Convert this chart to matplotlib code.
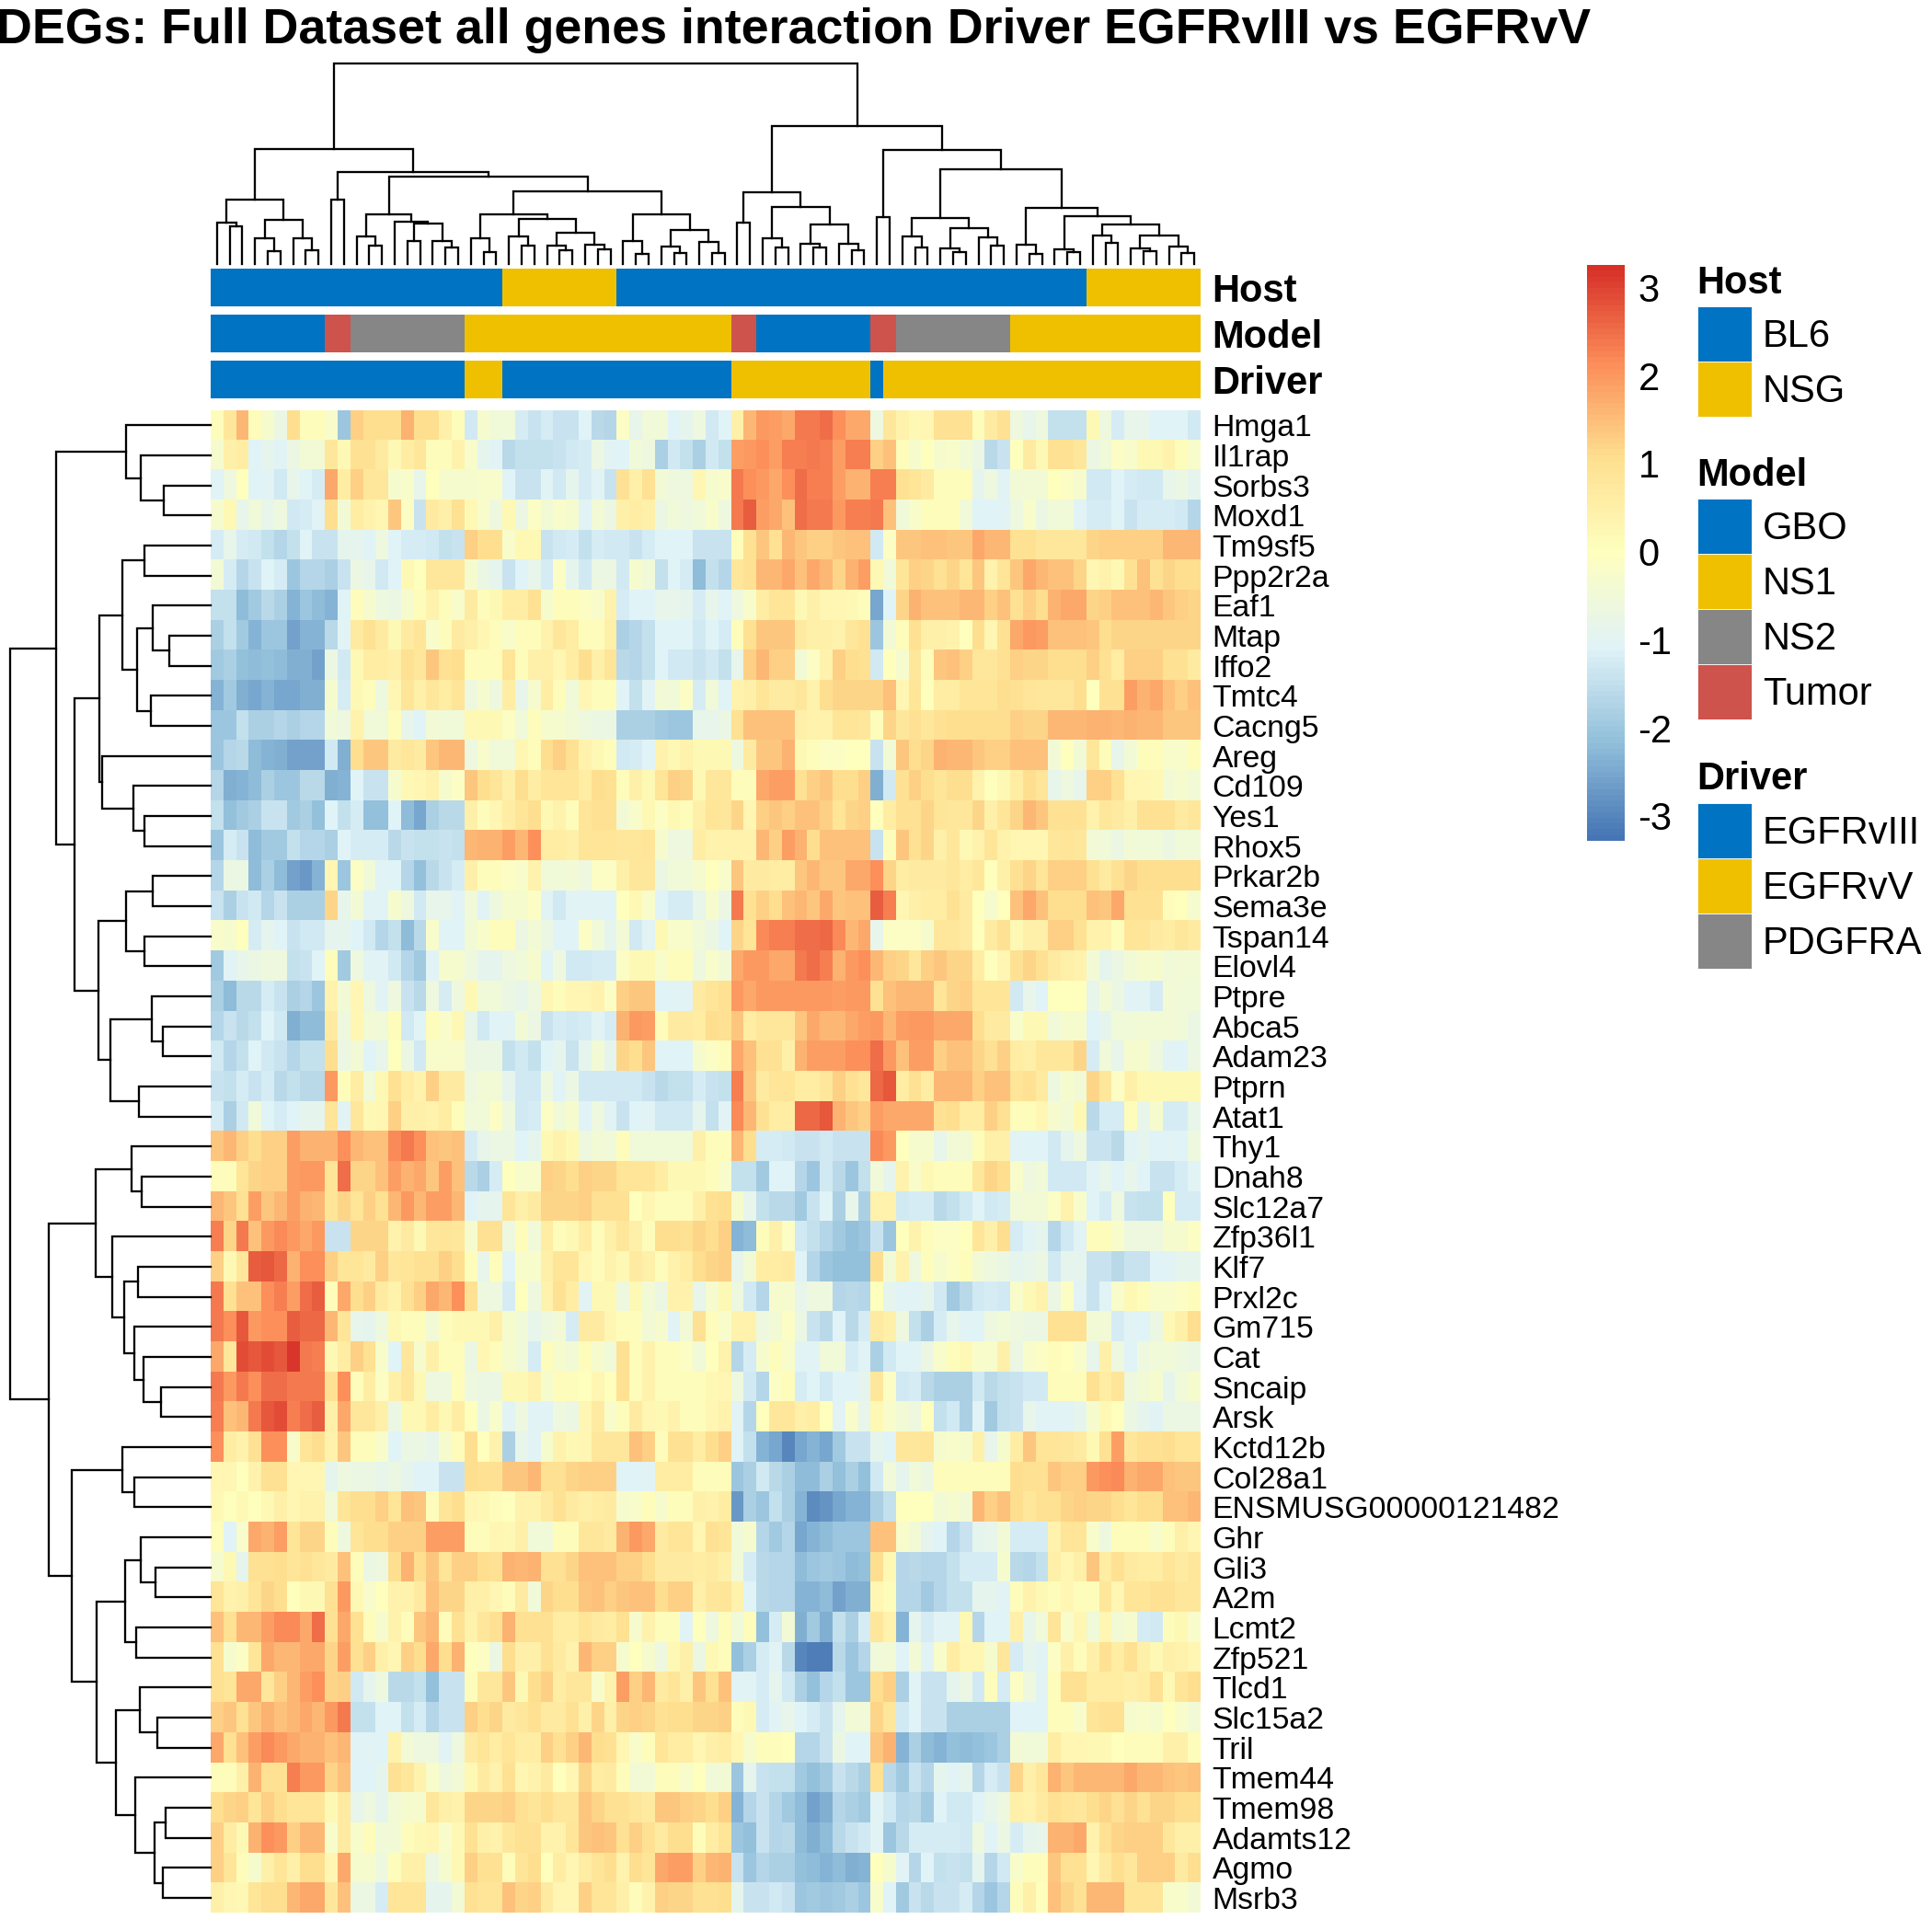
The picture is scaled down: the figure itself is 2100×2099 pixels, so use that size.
#!/usr/bin/env python3
"""Clustered expression heatmap with sample annotation tracks and dendrograms."""
import numpy as np
import matplotlib
matplotlib.use("Agg")
import matplotlib.pyplot as plt
from matplotlib.colors import LinearSegmentedColormap, ListedColormap
from matplotlib.patches import Rectangle
from matplotlib.transforms import ScaledTranslation

plt.rcParams["font.family"] = ["Liberation Sans", "DejaVu Sans"]

W, H = 2100, 2099

TITLE = "DEGs: Full Dataset all genes interaction Driver EGFRvIII vs EGFRvV"

ROW_LABELS = ["Hmga1", "Il1rap", "Sorbs3", "Moxd1", "Tm9sf5", "Ppp2r2a", "Eaf1", "Mtap", "Iffo2", "Tmtc4",
              "Cacng5", "Areg", "Cd109", "Yes1", "Rhox5", "Prkar2b", "Sema3e", "Tspan14", "Elovl4", "Ptpre",
              "Abca5", "Adam23", "Ptprn", "Atat1", "Thy1", "Dnah8", "Slc12a7", "Zfp36l1", "Klf7", "Prxl2c",
              "Gm715", "Cat", "Sncaip", "Arsk", "Kctd12b", "Col28a1", "ENSMUSG00000121482", "Ghr", "Gli3", "A2m",
              "Lcmt2", "Zfp521", "Tlcd1", "Slc15a2", "Tril", "Tmem44", "Tmem98", "Adamts12", "Agmo", "Msrb3"]

# z-scores, in tenths, samples in dendrogram order
Hmga1 = [1,8,16,1,-3,-7,11,1,1,-2,-20,13,11,11,11,17,11,11,5,1,-13,-3,-5,-5,-12,-14,-12,-14,-14,-11,-16,-17,-1,-8,-5,-5,-11,-9,-6,-13,
         -11,5,16,20,19,18,24,24,25,21,18,18,-6,8,4,2,3,10,10,10,1,7,10,-6,-8,-6,-15,-15,-15,2,-6,-12,-8,-8,-11,-11,-11,-13]
Il1rap = [-3,5,6,-11,-9,-10,-7,-4,-4,8,2,10,10,7,2,6,8,1,1,4,-2,-9,-10,-16,-15,-15,-15,-14,-13,-12,-7,-10,-11,-5,-6,-18,-13,-15,-18,-13,
          -15,19,20,21,19,23,23,24,23,19,23,23,13,15,1,-3,0,-3,-2,-4,-7,-16,-14,0,7,2,10,10,8,-7,-5,-1,-2,2,2,4,1,-2]
Sorbs3 = [-10,-6,0,-11,-10,-13,-8,-11,-12,18,6,13,8,8,-3,-2,-8,0,-3,-3,-3,-2,-2,-11,-14,-14,-10,-13,-9,-12,-10,-14,10,5,10,-4,-6,-6,3,-3,
          -2,24,21,20,18,21,25,23,23,19,17,17,23,23,10,9,7,1,1,1,-9,-6,-10,-4,-4,-4,0,-1,-3,-13,-13,-11,-12,-13,-13,-8,-7,-9]
Moxd1 = [-3,2,-8,-5,-8,-6,-13,-12,-10,11,-4,6,4,3,14,-1,-14,7,5,10,2,-2,-6,2,-7,-1,-4,-2,-3,-10,-4,-7,5,6,5,-7,-5,-6,-5,-2,
         -6,24,27,19,18,15,25,24,24,20,23,23,24,15,-5,-2,1,1,1,-5,-11,-11,-10,-6,-2,-7,-5,-5,-10,-12,-12,-11,-14,-12,-12,-12,-13,-17]
Tm9sf5 = [-12,-8,-12,-13,-15,-17,-15,-11,-14,-14,-9,-9,-11,-6,-11,-12,-12,-13,-15,-14,13,11,11,-2,2,2,-14,-13,-12,-15,-12,-13,-13,-14,-12,-11,-11,-11,-14,-14,
          -14,1,10,14,10,16,14,13,13,14,15,15,-13,-1,14,14,15,15,14,14,18,16,16,10,10,8,8,8,8,12,13,13,13,13,13,16,16,16]
Ppp2r2a = [-4,-12,-17,-14,-11,-12,-20,-17,-17,-18,-14,-7,-8,-13,-11,2,0,8,8,8,-3,-7,-9,-14,-11,-8,-12,-1,-9,-13,-7,-7,-13,-3,-5,-15,-11,-12,-22,-15,
           -17,8,10,16,16,18,15,18,16,12,17,19,2,-5,9,13,12,10,12,9,14,4,9,14,18,16,15,15,12,3,4,2,10,15,10,12,11,11]
Eaf1 = [-15,-15,-22,-19,-16,-18,-23,-20,-22,-23,-11,1,-3,-6,-7,-3,1,4,1,-2,7,1,2,6,6,10,-3,1,1,-1,-2,4,-12,-11,-11,-8,-8,-9,-12,-8,
        -11,-6,-2,6,9,9,2,5,3,3,2,1,-25,-11,12,17,15,15,15,16,16,13,15,10,13,11,17,18,18,12,13,15,15,15,16,14,13,12]
Mtap = [-18,-15,-19,-23,-20,-20,-26,-23,-23,-16,-10,7,10,7,2,7,9,-2,1,7,5,3,1,-2,1,1,4,8,6,1,1,5,-18,-17,-15,-11,-11,-11,-13,-11,
        -12,1,10,14,14,14,7,5,5,4,8,10,-20,-4,1,10,5,5,4,0,11,3,10,18,20,19,15,15,15,14,11,12,12,12,12,12,12,12]
Iffo2 = [-19,-18,-21,-22,-21,-22,-24,-24,-26,-7,-13,2,6,6,5,10,8,14,10,11,1,1,1,9,1,5,5,3,6,11,5,9,-16,-17,-15,-11,-13,-13,-14,-13,
         -15,-8,13,16,13,13,-4,-1,4,13,11,10,-13,0,-3,8,1,14,15,13,8,8,10,13,12,12,11,11,11,13,10,6,13,13,13,10,10,7]
Tmtc4 = [-23,-19,-24,-25,-23,-25,-25,-24,-24,-3,-12,2,1,-6,3,9,5,8,6,9,-6,-3,-6,6,-8,-3,6,1,-5,3,1,1,-11,-15,-10,-4,-5,-1,-12,-5,
         -11,4,5,9,7,7,8,4,11,12,12,12,12,15,3,9,0,6,6,9,9,9,11,10,9,8,8,8,11,0,10,10,19,17,18,15,13,15]
Cacng5 = [-20,-20,-15,-18,-18,-17,-18,-17,-17,-5,-6,4,-5,-5,1,-8,-11,-4,-5,-5,2,2,2,-1,-5,1,-3,-3,-4,-6,-7,-7,-18,-18,-18,-19,-20,-20,-8,-8,
          -7,10,15,15,15,15,5,4,4,9,9,8,1,12,8,10,8,10,11,11,11,11,11,13,12,12,16,16,16,17,17,16,17,16,16,14,14,14]
Areg = [-20,-17,-16,-22,-23,-24,-26,-26,-26,-13,-24,11,14,14,7,8,7,14,16,16,-6,-2,-5,-5,3,1,11,13,10,4,2,1,-13,-12,-11,4,2,4,2,2,
        2,-6,7,14,14,17,2,1,-1,-1,0,0,-14,-4,14,11,12,17,16,16,14,13,13,15,15,15,-4,0,-4,8,1,-8,-4,1,1,-2,-2,1]
Cd109 = [-17,-24,-23,-22,-18,-20,-20,-16,-16,-24,-23,-11,-14,-14,-3,2,3,4,-3,-1,14,11,9,5,11,6,9,9,9,6,11,10,1,5,2,9,13,12,2,8,
         8,1,1,18,19,19,10,13,14,11,11,13,-24,-13,10,13,11,9,11,11,4,0,2,6,11,9,-8,-6,-8,13,13,10,3,3,2,-4,-3,-4]
Yes1 = [-15,-21,-19,-18,-14,-14,-19,-18,-21,-11,-15,-12,-21,-21,-11,-22,-25,-18,-16,-16,5,1,3,6,9,11,2,4,1,9,10,10,-4,-2,2,-1,2,1,5,9,
        8,12,3,13,14,13,15,15,13,9,12,13,0,6,10,10,12,9,8,8,12,5,9,12,16,14,10,10,10,4,8,7,5,10,10,10,7,8]
Rhox5 = [-20,-12,-14,-22,-19,-19,-15,-17,-17,-18,-11,-12,-12,-12,-16,-14,-15,-15,-14,-15,16,17,17,19,16,21,6,6,5,9,9,9,8,8,9,-3,-6,-6,6,4,
         4,4,4,16,13,19,17,11,15,15,15,15,-14,1,14,10,12,5,8,2,4,9,4,3,3,3,8,9,8,-4,-5,-7,-4,-5,-5,-7,-5,-5]
Prkar2b = [-17,-7,-7,-22,-18,-22,-26,-27,-23,3,-20,-1,-5,-10,-11,-17,-21,-16,-14,-12,5,1,1,-1,-2,4,-5,-5,-4,-6,-1,-1,5,8,8,-7,-5,-5,-3,0,
           -2,14,7,7,6,6,14,16,14,14,18,18,21,12,6,7,7,7,8,6,8,0,5,10,12,9,13,13,13,10,7,10,12,11,11,11,11,11]
Sema3e = [-14,-18,-14,-13,-17,-14,-18,-18,-18,12,-8,-4,-10,-10,-3,-6,-13,-8,-8,-10,-5,-10,-6,-3,-3,-1,-10,-13,-10,-10,-10,-11,0,2,-2,-11,-12,-12,-8,-3,
          -7,24,10,13,11,15,16,14,18,14,15,15,27,23,3,5,6,6,10,7,0,-3,0,15,18,15,11,11,11,15,14,18,10,10,10,1,0,-3]
Tspan14 = [-2,-3,0,-12,-9,-11,-14,-13,-13,-9,-9,-11,-13,-17,-15,-22,-16,-2,-11,-11,-4,-2,1,1,-7,-4,-7,-11,-11,-1,-5,-9,-4,-13,-10,2,-2,-2,-5,-7,
           -11,12,9,22,23,23,25,25,26,22,16,18,-8,-1,-1,-1,-3,8,8,7,0,7,10,2,5,5,13,13,10,4,4,1,9,9,7,6,8,7]
Elovl4 = [-19,-10,-8,-7,-6,-6,-15,-14,-11,1,-19,-6,-10,-10,-13,-17,-19,-10,-3,-3,-6,-9,-9,-6,-5,-3,-11,-6,-13,-13,-12,-12,-1,2,2,-2,1,1,-6,-2,
          -4,18,20,20,18,18,24,25,23,17,20,21,16,13,12,8,13,14,12,12,6,0,3,10,12,10,7,5,4,-4,-9,-7,-4,-3,-3,-5,-4,-4]
Ptpre = [-18,-22,-16,-16,-12,-14,-18,-17,-20,4,-4,3,-6,-10,-6,-14,-16,-6,-12,-6,2,-5,-5,-7,-8,-6,3,1,3,3,4,-1,13,14,14,-11,-10,-10,7,9,
         10,20,18,20,20,20,20,20,20,19,20,20,10,15,16,16,16,9,12,13,9,9,9,-13,-8,-11,0,0,0,-8,-4,-7,-10,-10,-12,-4,-5,-5]
Abca5 = [-17,-14,-16,-15,-11,-13,-24,-22,-22,7,-6,3,-4,-5,1,-13,-11,1,-2,2,-8,-13,-11,-10,-4,-7,-14,-12,-13,-12,-10,-12,17,20,19,1,7,7,6,11,
         10,14,6,8,8,8,14,18,16,16,18,19,20,16,19,20,20,18,18,18,11,7,7,-2,2,2,-5,-3,-3,-11,-9,-5,-5,-4,-4,-4,-5,-7]
Adam23 = [-13,-17,-15,-11,-13,-14,-17,-15,-15,11,-7,-4,-11,-8,0,-7,-13,-2,-2,-2,-7,-7,-7,-15,-13,-15,-11,-9,-14,-9,-4,-9,12,11,14,-11,-11,-11,-3,-1,
          1,18,15,10,10,5,17,19,19,19,21,21,25,20,15,19,19,13,15,15,12,10,13,6,5,8,8,8,12,-12,-5,-8,-3,-3,-6,-10,-11,-7]
Ptprn = [-14,-15,-12,-14,-12,-16,-15,-16,-16,20,1,6,-5,2,10,6,4,13,7,7,-6,-4,-4,-9,-13,-13,-6,-11,-7,-13,-13,-13,-13,-13,-14,-16,-15,-15,-12,-14,
         -15,23,14,7,9,9,6,6,8,13,10,8,26,28,6,10,6,16,16,16,13,15,15,9,10,7,-6,-3,-4,12,8,-1,5,2,2,2,2,2]
Atat1 = [-12,-18,-13,-5,-11,-12,-11,-9,-9,9,-10,8,2,3,13,5,5,4,6,1,-5,-5,-1,-6,-13,-12,-1,-5,-3,-11,-6,-10,-14,-11,-10,-13,-13,-13,-9,-15,
         -10,22,16,10,6,6,26,26,28,17,14,13,19,18,18,18,18,10,11,6,6,13,10,1,1,3,-3,-4,2,-16,-12,-12,1,-8,-3,-12,-12,-8]
Thy1 = [14,16,13,11,13,13,19,17,17,17,21,16,15,15,22,24,21,15,14,15,-12,-8,-7,-7,-11,-9,2,4,2,-6,-4,-5,1,-5,-5,-5,-5,-5,5,1,
        1,16,11,-12,-12,-13,-14,-14,-13,-14,-14,-14,22,20,0,-3,-3,-8,-4,-4,1,5,5,-10,-11,-11,-13,-9,-6,-14,-14,-16,-10,-9,-11,-10,-11,-6]
Dnah8 = [1,1,9,12,13,13,19,20,20,9,25,12,12,15,19,17,18,14,19,15,-16,-18,-12,0,-2,-2,13,12,11,13,12,12,9,9,9,6,2,2,2,1,
         -2,-15,-15,-19,-11,-11,-17,-20,-13,-16,-20,-15,-5,-9,4,-2,2,1,1,1,8,12,11,-2,-6,-5,-13,-13,-13,-10,-8,-11,-8,-11,-14,-14,-12,-10]
Slc12a7 = [16,14,10,19,14,16,19,17,16,9,12,9,13,10,16,20,16,19,19,16,-11,-9,-9,9,5,7,12,12,12,13,10,10,10,0,3,1,1,1,5,10,
           11,-3,-8,-15,-16,-16,-19,-14,-11,-18,-8,-18,4,4,-13,-12,-12,-16,-15,-13,-11,-13,-12,-5,-4,-4,-1,4,-2,-11,-12,-6,-14,-15,-15,0,-12,-12]
Zfp36l1 = [23,12,24,15,20,22,20,18,20,-14,-14,12,12,12,4,7,2,8,9,8,-3,10,10,-6,1,-5,6,1,2,6,1,5,8,5,1,11,11,10,12,11,
           13,-23,-22,1,5,-1,-13,-15,-17,-19,-21,-20,-14,-20,0,4,1,-1,-1,0,9,5,11,-12,-10,-9,-17,-13,-10,1,1,-2,-6,-6,-6,-3,-3,-1]
Klf7 = [13,2,8,27,28,26,17,21,21,13,9,9,7,13,8,9,10,10,13,11,1,-8,1,-11,-2,-2,5,9,9,3,1,4,2,7,5,1,4,6,11,12,
        13,-8,-4,6,6,7,-11,-17,-20,-21,-21,-21,11,-4,4,-6,1,-3,-1,1,-4,-6,-7,-9,-8,-7,-13,-9,-9,-14,-14,-16,-14,-14,-11,-10,-9,-9]
Prxl2c = [24,10,15,15,21,23,19,25,27,1,18,11,13,7,4,10,13,18,16,21,10,-6,-6,-12,0,-6,4,10,6,-10,2,2,-6,2,-4,-7,4,4,-8,-3,
          2,-6,-13,-17,-3,-3,-8,-6,-6,-17,-16,-17,0,-9,-10,-10,-9,-13,-19,-16,-13,-12,-13,-2,2,4,-7,-1,-10,-14,-10,-2,2,1,-2,-2,-1,1]
Gm715 = [24,21,28,20,21,21,27,26,26,16,9,-8,-9,-6,2,1,1,-4,1,2,2,2,5,-3,-5,-8,-6,-4,-12,7,7,3,1,1,-4,-3,-10,-4,10,1,
         -2,4,4,-6,-4,-1,-7,-14,-16,-11,-16,-12,7,5,-6,-15,-18,-12,-8,-10,-11,-6,-5,-6,-7,-7,10,10,10,-4,-4,-12,-10,-11,-7,2,5,11]
Cat = [18,8,29,28,29,28,32,24,23,2,6,13,10,-2,-11,8,-3,5,1,1,-7,3,1,-3,-5,-12,1,-3,-4,1,-3,-5,10,1,4,1,1,-1,-5,0,
       4,-17,-12,-3,1,-2,-10,-10,-5,-5,-12,-10,-18,-13,-11,-10,-7,-2,1,2,-2,-2,5,-7,-2,-1,1,0,-2,-8,5,-6,-11,-6,-5,-5,-6,-7]
Sncaip = [24,20,24,21,25,25,24,24,24,10,21,1,6,-1,5,8,2,-6,-6,1,-6,-7,-7,2,2,4,-3,1,1,0,3,0,10,1,4,1,1,1,1,2,
          3,-6,-13,-17,-1,1,-12,-11,-13,-11,-11,-9,8,-1,-13,-12,-16,-18,-18,-18,-13,-16,-15,-14,-13,-13,1,1,1,10,6,9,-6,-4,-3,-9,-5,-3]
Arsk = [23,15,16,24,28,29,23,25,27,5,18,8,8,5,-7,2,2,6,2,6,0,-7,-2,-10,-6,-10,-10,-6,-7,3,7,-2,1,7,3,2,4,1,1,3,
        4,-10,-17,0,8,8,5,6,0,-10,-2,-8,2,-2,-4,-6,0,-15,-13,-18,-10,-19,-15,-14,-8,-10,-10,-10,-9,-3,2,0,-7,-9,-10,-7,-7,-7]
Kctd12b = [21,6,4,10,21,21,-2,9,11,4,14,1,1,-2,-11,-7,-7,-8,-3,1,11,0,4,-18,-8,-10,-3,4,2,3,8,8,8,15,13,1,10,10,6,11,
           13,-11,-15,-23,-25,-30,-25,-23,-25,-19,-14,-14,-9,-11,8,8,9,-3,-2,-3,5,-8,-3,6,14,9,9,8,7,2,10,19,8,10,10,11,9,9]
Col28a1 = [3,3,0,4,10,10,3,3,3,-9,-6,-7,-7,-8,-7,-9,-11,-11,-14,-14,11,10,10,14,14,16,10,10,12,13,13,13,-11,-11,-10,6,6,6,1,1,
           1,-20,-18,-13,-16,-18,-22,-22,-18,-21,-18,-21,-13,-5,-9,-5,-7,1,1,1,1,1,1,11,10,10,14,13,13,20,21,22,17,18,18,15,14,14]
ENSMUSG00000121482 = [2,0,2,0,2,5,3,4,4,-5,9,11,11,13,9,15,14,1,9,11,3,2,1,0,4,4,7,10,7,5,6,7,-3,-2,1,-3,1,1,5,4,
                      6,-27,-18,-20,-15,-18,-23,-29,-28,-25,-23,-23,-18,-15,0,0,0,-4,-3,-4,16,13,15,11,8,10,10,12,13,12,12,11,9,11,11,15,15,16]
Ghr = [1,-11,-2,18,17,19,9,12,12,1,-6,9,11,11,13,13,13,19,19,19,1,1,3,2,5,-5,-5,1,1,8,8,7,17,20,18,7,9,9,3,10,
       9,-5,-3,-17,-19,-17,-25,-23,-22,-20,-20,-20,15,15,-2,-4,-9,-11,-17,-14,-9,-8,-4,-12,-12,-12,4,9,9,-2,-6,1,1,1,-2,1,5,3]
Gli3 = [-3,2,-9,10,10,11,9,10,8,7,15,1,-7,-6,11,17,11,14,9,13,13,11,10,17,16,17,10,10,12,15,15,15,13,13,11,7,7,7,6,7,
        5,-5,-12,-16,-17,-17,-22,-20,-19,-20,-22,-21,11,2,-17,-16,-17,-17,-15,-12,-12,-12,-3,-16,-17,-15,5,3,5,14,6,10,7,6,6,9,7,8]
A2m = [9,4,5,9,12,11,0,2,2,10,20,2,-2,0,4,4,7,15,12,12,5,5,3,1,7,-5,12,11,11,14,15,13,14,15,15,11,13,13,5,8,
       9,4,-11,-16,-17,-17,-23,-23,-22,-26,-24,-24,3,1,-17,-17,-19,-17,-15,-15,-9,-9,-10,1,4,2,1,3,1,1,8,3,9,9,10,10,8,8]
Lcmt2 = [15,10,16,16,19,22,22,18,25,10,18,10,1,-3,4,1,14,16,1,10,4,8,10,17,10,10,10,6,6,9,7,6,10,-3,4,1,1,-10,0,-6,
         1,-5,1,-21,-12,-4,-24,-19,-24,-15,-18,-12,8,4,-23,-9,-12,-10,-10,2,-17,-11,-11,5,-8,-5,9,-2,3,-5,3,-4,-3,-12,-13,1,2,-2]
Zfp521 = [10,-3,-1,9,18,16,16,18,18,12,19,10,13,5,3,13,11,18,11,17,0,-1,-7,11,5,5,10,7,4,16,13,13,-3,0,-3,-6,2,5,-7,2,
          1,-21,-18,-12,-10,-16,-30,-31,-31,-16,-20,-17,-5,-4,-11,-4,-10,-2,6,3,3,-3,8,-12,-9,-10,-1,5,1,5,10,6,10,5,2,5,4,3]
Tlcd1 = [10,9,18,18,8,13,16,19,21,12,13,-13,-9,-6,-16,-16,-15,-21,-14,-14,1,8,8,14,2,11,13,6,8,8,-2,4,19,13,16,7,9,5,14,10,
         15,-10,-10,-12,-9,-13,-18,-21,-17,-15,-20,-20,11,13,-18,-10,-14,-14,-9,-7,-13,1,-12,-1,-6,-10,1,10,10,6,6,6,5,6,10,2,9,11]
Slc15a2 = [13,14,10,14,17,15,16,18,16,20,24,-15,-15,-11,-11,-15,-12,-17,-14,-14,13,11,12,7,8,10,7,7,10,5,12,5,12,13,12,10,11,11,12,12,
           13,1,2,-12,-10,-8,-11,-12,-14,-9,-4,-5,12,8,-13,-11,-14,-14,-18,-18,-18,-18,-18,-11,-11,-11,1,1,-2,9,10,10,-3,-2,-3,0,-2,-4]
Tril = [18,10,15,19,22,20,18,17,17,15,16,-10,-10,-11,4,-4,-6,-6,-10,-6,7,9,6,9,6,6,13,10,13,16,11,10,3,-2,1,9,6,6,3,5,
        6,3,-3,1,1,0,-17,-17,-14,-7,-11,-11,14,17,-23,-18,-22,-23,-21,-22,-21,-20,-18,-4,-5,-5,6,3,3,2,2,0,1,1,1,5,5,1]
Tmem44 = [1,1,5,17,10,10,23,20,20,12,15,-11,-11,-9,10,8,4,-2,-6,-4,2,7,4,10,3,4,7,0,3,12,6,7,1,-4,-4,1,1,-2,0,-5,
          -4,-20,-9,-14,-15,-15,-19,-21,-19,-14,-16,-18,10,-16,-19,-14,-17,-9,-10,-9,-17,-12,-14,12,5,8,17,14,16,16,16,16,18,16,16,15,14,15]
Tmem98 = [11,12,13,9,13,11,9,9,9,2,7,-8,-6,-9,-4,-3,-3,8,5,4,12,12,12,13,10,9,11,8,8,14,12,10,10,8,7,14,14,13,12,11,
          13,-23,-17,-14,-17,-19,-22,-26,-24,-17,-18,-19,-10,-13,-17,-16,-19,-11,-13,-13,-11,-8,-6,5,4,7,10,9,8,11,12,10,12,10,12,12,11,11]
Adamts12 = [13,6,2,17,21,20,13,16,16,-2,7,-2,1,-5,-4,1,2,3,-2,2,10,5,4,8,10,10,4,4,9,14,15,14,10,13,10,7,11,11,1,6,
            9,-20,-21,-14,-17,-16,-22,-24,-22,-16,-14,-13,-10,-20,-16,-12,-12,-12,-12,-13,-6,-11,-7,-12,-9,-8,17,17,18,4,10,12,13,13,13,8,5,5]
Agmo = [13,9,1,-3,5,9,5,11,11,3,18,-3,-3,-6,1,5,5,-7,-3,2,13,10,10,1,9,11,0,6,3,6,9,11,4,11,9,18,19,19,13,16,
        17,-14,-20,-17,-18,-18,-21,-22,-23,-22,-24,-23,0,-3,-10,-17,-11,-15,-14,-15,-9,-17,-13,-2,1,1,14,10,10,3,7,11,8,13,13,13,7,11]
Msrb3 = [5,3,2,9,11,11,16,18,18,8,15,-7,-7,-12,9,9,9,-9,-9,-4,10,9,9,15,12,13,7,3,3,13,9,9,5,1,4,13,12,12,10,10,
         11,-9,-14,-14,-13,-14,-20,-19,-20,-19,-18,-20,-2,-11,-19,-14,-16,-14,-14,-12,-17,-20,-17,1,5,0,15,12,10,16,16,16,9,9,9,-2,-2,-4]

ROWS = [Hmga1, Il1rap, Sorbs3, Moxd1, Tm9sf5, Ppp2r2a, Eaf1, Mtap, Iffo2, Tmtc4,
        Cacng5, Areg, Cd109, Yes1, Rhox5, Prkar2b, Sema3e, Tspan14, Elovl4, Ptpre,
        Abca5, Adam23, Ptprn, Atat1, Thy1, Dnah8, Slc12a7, Zfp36l1, Klf7, Prxl2c,
        Gm715, Cat, Sncaip, Arsk, Kctd12b, Col28a1, ENSMUSG00000121482, Ghr, Gli3, A2m,
        Lcmt2, Zfp521, Tlcd1, Slc15a2, Tril, Tmem44, Tmem98, Adamts12, Agmo, Msrb3]

# sample annotations per column
HOST = ["BL6"] * 23 + ["NSG"] * 9 + ["BL6"] * 37 + ["NSG"] * 9
MODEL = (["GBO"] * 9 + ["Tumor"] * 2 + ["NS2"] * 9 + ["NS1"] * 21 + ["Tumor"] * 2
         + ["GBO"] * 9 + ["Tumor"] * 2 + ["NS2"] * 9 + ["NS1"] * 15)
DRIVER = (["EGFRvIII"] * 20 + ["EGFRvV"] * 3 + ["EGFRvIII"] * 18 + ["EGFRvV"] * 11
          + ["EGFRvIII"] * 1 + ["EGFRvV"] * 25)

HOST_LEVELS = ["BL6", "NSG"]
MODEL_LEVELS = ["GBO", "NS1", "NS2", "Tumor"]
DRIVER_LEVELS = ["EGFRvIII", "EGFRvV", "PDGFRA"]
JCO = ["#0073C2", "#EFC000", "#868686", "#CD534C"]

# merge trees: (height, left, right), a plain int is a leaf
COL_TREE = (654,
    (376,
        (210, (137, 0, (124, 1, 2)), (145, (85, 3, (44, 4, 5)), (85, 6, (46, 7, 8)))),
        (301, (210, 9, 10),
            (285,
                (162, (92, 11, (62, 12, 13)),
                    (138, 14, (132, (77, 15, 16), (77, 17, (54, 18, 19))))),
                (239,
                    (164, (84, 20, (40, 21, 22)),
                        (149, (90, 23, (62, 24, 25)),
                            (102, (60, 26, (47, 27, 28)), (63, 29, (48, 30, 31))))),
                    (164, (75, 32, (34, 33, 34)),
                        (112, (58, 35, (36, 36, 37)), (72, 38, (36, 39, 40)))))))),
    (451,
        (234, (135, 41, 42),
            (187, (85, 43, (54, 44, 45)),
                (129, (66, 46, (54, 47, 48)), (68, 49, (46, 50, 51))))),
        (372, (154, 52, 53),
            (310,
                (152, (90, 54, (56, 55, 56)),
                    (117, (52, 57, (40, 58, 59)), (88, 60, (60, 61, 62)))),
                (185, (63, 63, (35, 64, 65)),
                    (157, (49, 66, (40, 67, 68)),
                        (130, (94, 69, (70, 70, 71)),
                            (94, (52, 72, (42, 73, 74)), (57, 75, (36, 76, 77))))))))))

ROW_TREE = (654,
    (503,
        (277, 0, (227, 1, (154, 2, 3))),
        (445,
            (364,
                (287, (216, 4, 5), (239, (188, 6, (135, 7, 8)), (196, 9, 10))),
                (355, 11, (251, 12, (215, 13, 14)))),
            (366,
                (277, (189, 15, 16), (215, 17, 18)),
                (327, (193, 19, (156, 20, 21)), (234, 22, 23))))),
    (527,
        (374,
            (257, 24, (224, 25, 26)),
            (320, 27, (282, (236, 28, 29), (250, 30, (220, 31, (163, 32, 33)))))),
        (452,
            (288, 34, (250, 35, 36)),
            (373,
                (280, (228, 37, (180, 38, 39)), (242, 40, 41)),
                (309, (231, 42, (175, 43, 44)),
                    (246, 45, (184, (147, 46, 47), (157, 48, 49))))))))

VMAX = 3.27
CMAP = LinearSegmentedColormap.from_list(
    "rdylbu", ["#4575B4", "#91BFDB", "#E0F3F8", "#FFFFBF", "#FEE090", "#FC8D59", "#D73027"], N=100)


def px_axes(fig, x0, y0, x1, y1):
    """Axes from pixel box, y measured from the top."""
    return fig.add_axes([x0 / W, 1 - y1 / H, (x1 - x0) / W, (y1 - y0) / H])


def tree_segments(node, segs):
    """Walk a merge tree, return (leaf position, height) and collect the U shapes."""
    if isinstance(node, int):
        return node + 0.5, 0
    h, left, right = node
    p1, h1 = tree_segments(left, segs)
    p2, h2 = tree_segments(right, segs)
    segs.append(((p1, p1, p2, p2), (h1, h, h, h2)))
    return (p1 + p2) / 2, h


def annotation_track(ax, values, levels, label):
    codes = [[levels.index(v) for v in values]]
    ax.imshow(codes, aspect="auto", interpolation="nearest", cmap=ListedColormap(JCO[:len(levels)]),
              vmin=0, vmax=len(levels) - 1)
    ax.set_xticks([])
    ax.set_yticks([0], [label], fontsize=10, fontweight="bold")
    ax.yaxis.tick_right()
    ax.tick_params(length=0, pad=2.9)
    for s in ax.spines.values():
        s.set_visible(False)


def main() -> None:
    fig = plt.figure(figsize=(W / 300, H / 300), dpi=300)
    heat = np.array(ROWS) / 10

    HX0, HX1, HY0, HY1 = 229, 1305, 446, 2079.5

    ax = px_axes(fig, HX0, HY0, HX1, HY1)
    ax.imshow(heat, aspect="auto", interpolation="nearest", cmap=CMAP, vmin=-VMAX, vmax=VMAX)
    ax.set_xticks([])
    ax.set_yticks(range(len(ROW_LABELS)), ROW_LABELS, fontsize=8.1)
    ax.yaxis.tick_right()
    ax.tick_params(length=0, pad=3.0)
    for s in ax.spines.values():
        s.set_visible(False)

    annotation_track(px_axes(fig, HX0, 292, HX1, 333), HOST, HOST_LEVELS, "Host")
    annotation_track(px_axes(fig, HX0, 342, HX1, 383), MODEL, MODEL_LEVELS, "Model")
    annotation_track(px_axes(fig, HX0, 392, HX1, 433), DRIVER, DRIVER_LEVELS, "Driver")

    # column dendrogram
    ax = px_axes(fig, HX0, 69.3, HX1, 287.3)
    segs = []
    tree_segments(COL_TREE, segs)
    for xs, ys in segs:
        ax.plot(xs, ys, color="black", lw=0.55, clip_on=False, solid_joinstyle="miter")
    ax.set_xlim(0, heat.shape[1])
    ax.set_ylim(0, COL_TREE[0])
    ax.axis("off")

    # row dendrogram
    ax = px_axes(fig, 11, HY0, HX0, HY1)
    segs = []
    tree_segments(ROW_TREE, segs)
    for ys, xs in segs:
        ax.plot(xs, ys, color="black", lw=0.55, clip_on=False, solid_joinstyle="miter")
    ax.set_xlim(ROW_TREE[0], 0)
    ax.set_ylim(heat.shape[0], 0)
    ax.axis("off")

    # colour bar
    ax = px_axes(fig, 1725, 288, 1766, 914)
    ax.imshow(np.linspace(VMAX, -VMAX, 100).reshape(-1, 1), aspect="auto", cmap=CMAP, vmin=-VMAX, vmax=VMAX,
              extent=[0, 1, -VMAX, VMAX], interpolation="nearest")
    ax.set_xticks([])
    ticks = [-3, -2, -1, 0, 1, 2, 3]
    ax.set_yticks(ticks, [str(t) for t in ticks], fontsize=10)
    ax.yaxis.tick_right()
    ax.tick_params(length=0, pad=3.5)
    for lab in ax.get_yticklabels():
        lab.set_transform(lab.get_transform() + ScaledTranslation(0, 1.3 / 300, fig.dpi_scale_trans))
    for s in ax.spines.values():
        s.set_visible(False)

    # overlay in pixels for legends and title
    ov = fig.add_axes([0, 0, 1, 1], zorder=5)
    ov.set_xlim(0, W)
    ov.set_ylim(H, 0)
    ov.axis("off")
    ov.patch.set_alpha(0)

    ov.text(1729, 33, TITLE, ha="right", va="center", fontsize=12.9, fontweight="bold")

    for title, levels, y_title, y_first in [("Host", HOST_LEVELS, 308, 333),
                                            ("Model", MODEL_LEVELS, 517, 542),
                                            ("Driver", DRIVER_LEVELS, 847, 873)]:
        ov.text(1844, y_title, title, ha="left", va="center", fontsize=10, fontweight="bold")
        for i, lev in enumerate(levels):
            ov.add_patch(Rectangle((1845, y_first + 60 * i), 59, 60, fc=JCO[i], ec="white", lw=0.2))
            ov.text(1916, y_first + 60 * i + 33, lev, ha="left", va="center", fontsize=10)

    fig.savefig("out.png", dpi=300)
    plt.close(fig)


if __name__ == "__main__":
    main()
